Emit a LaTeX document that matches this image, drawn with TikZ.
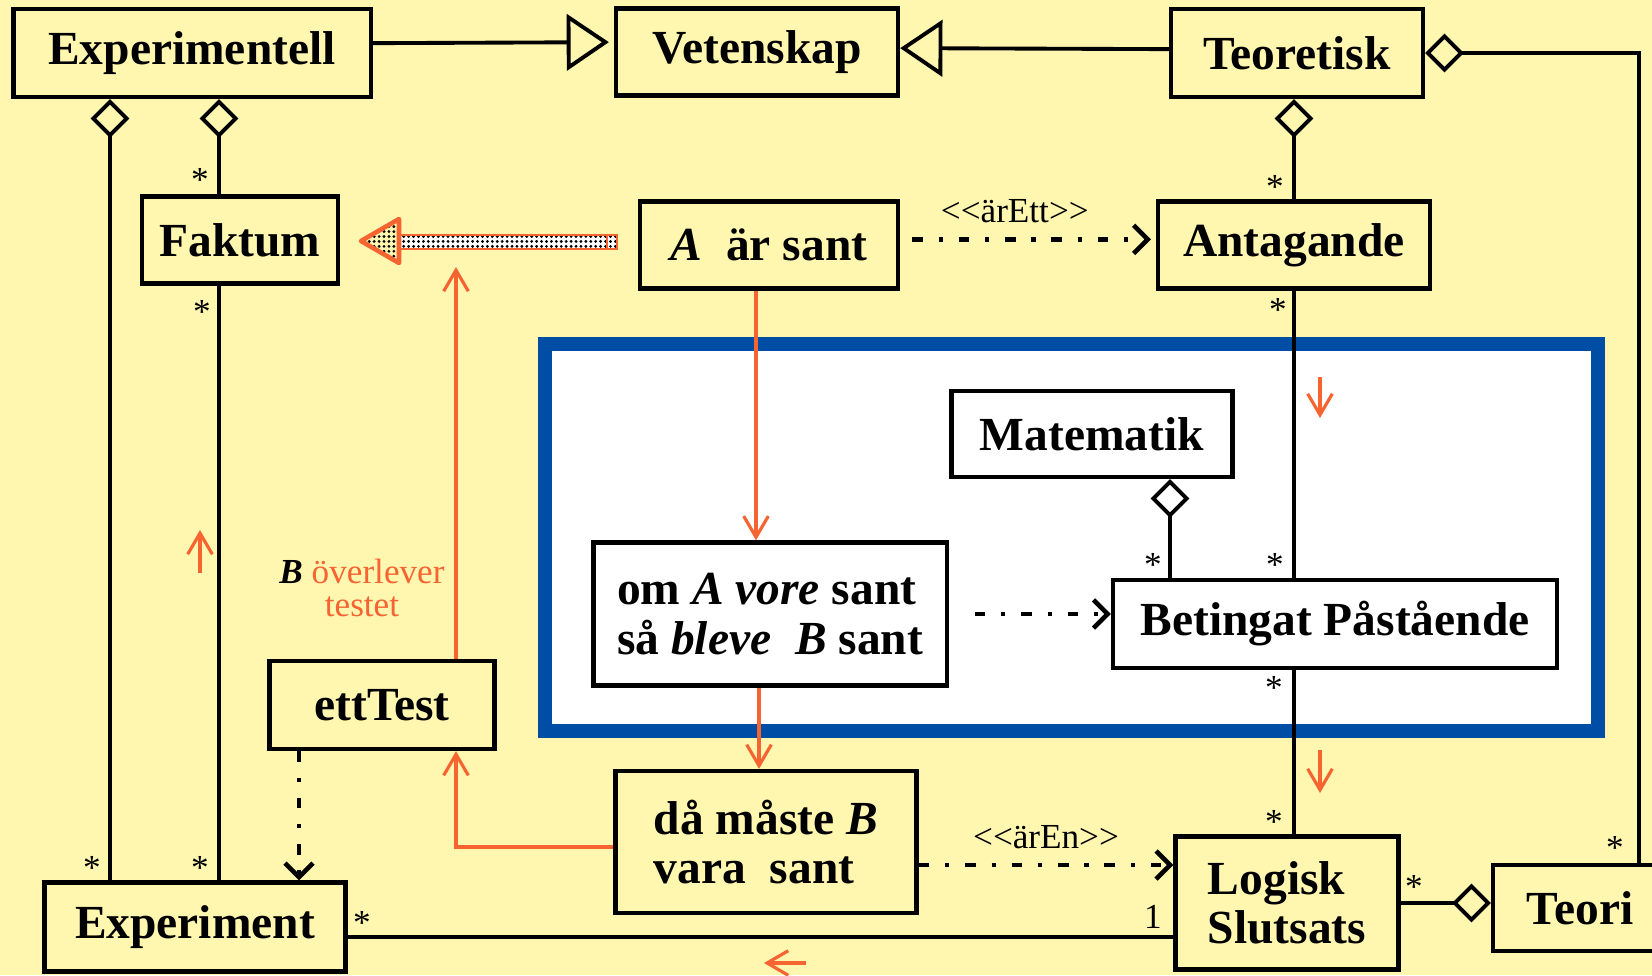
\documentclass[tikz,border=0pt]{standalone}
\usepackage{fontspec}
\setmainfont{Liberation Serif}
\usetikzlibrary{arrows.meta,calc,patterns}
\definecolor{bakgrund}{RGB}{255,246,176}
\definecolor{blarand}{RGB}{0,77,166}
\definecolor{pilorange}{RGB}{246,100,50}
\pgfdeclarepatternformonly{finaprickar}{\pgfpoint{-0.6pt}{-0.6pt}}{\pgfpoint{0.6pt}{0.6pt}}{\pgfpoint{1.4pt}{1.4pt}}{\pgfpathcircle{\pgfpointorigin}{0.45pt}\pgfusepath{fill}}
\tikzset{
	klass/.style={draw, line width=1.2pt, fill=bakgrund, inner sep=0pt, align=center,
			font=\bfseries\fontsize{13.5}{14}\selectfont},
	vitklass/.style={klass, fill=white},
	lank/.style={line width=1.1pt},
	aggr/.style={lank, {Diamond[open, length=11pt, width=11pt]}-},
	aggrslut/.style={lank, -{Diamond[open, length=11pt, width=11pt]}},
	arv/.style={lank, -{Triangle[open, length=12pt, width=16pt]}},
	beroende/.style={line width=1.3pt, dash pattern=on 3pt off 4.5pt on 1.2pt off 4.5pt,
			-{Straight Barb[length=4pt, width=8pt]}},
	flode/.style={draw=pilorange, line width=0.9pt, -{Straight Barb[length=6pt, width=7pt]}},
	antal/.style={inner sep=0pt, font=\fontsize{10}{10}\selectfont},
	etikett/.style={inner sep=0pt, font=\fontsize{10}{10}\selectfont}
}

\begin{document}
\begin{tikzpicture}[x=0.01cm, y=-0.01cm]
	\useasboundingbox (0,0) rectangle (1652,975);
	\fill[bakgrund] (0,0) rectangle (1652,975);
	\draw[blarand, line width=4pt, fill=white] (545,344) rectangle (1598,731);

	\node[klass, minimum width=3.57cm, minimum height=0.88cm] (expl) at (192,53) {Experimentell};
	\node[klass, minimum width=2.82cm, minimum height=0.87cm] (vet) at (757,52) {Vetenskap};
	\node[klass, minimum width=2.52cm, minimum height=0.88cm] (teor) at (1297,53) {Teoretisk};
	\node[klass, minimum width=1.96cm, minimum height=0.87cm] (faktum) at (240,240) {Faktum};
	\node[klass, minimum width=2.58cm, minimum height=0.87cm] (asant) at (769,245) {\textit{A}\ \ är sant};
	\node[klass, minimum width=2.72cm, minimum height=0.87cm] (antag) at (1294,245) {Antagande};
	\node[vitklass, minimum width=2.81cm, minimum height=0.86cm] (mat) at (1092,434) {Matematik};
	\node[vitklass, minimum width=3.53cm, minimum height=1.43cm, align=left] (om) at (770,614) {om \textit{A vore} sant\\så \textit{bleve}\ \ \textit{B} sant};
	\node[vitklass, minimum width=4.44cm, minimum height=0.88cm] (bet) at (1335,624) {Betingat Påstående};
	\node[klass, minimum width=2.25cm, minimum height=0.88cm] (etttest) at (382,705) {ettTest};
	\node[klass, minimum width=3.01cm, minimum height=1.42cm, align=left] (da) at (766,842) {då måste \textit{B}\\vara\ \ sant};
	\node[klass, minimum width=3.01cm, minimum height=0.89cm] (exp) at (195,927) {Experiment};
	\node[klass, minimum width=2.23cm, minimum height=1.33cm, align=left] (logisk) at (1287,903) {Logisk\\Slutsats};
	\node[klass, minimum width=1.74cm, minimum height=0.86cm] (teori) at (1580,908) {Teori};

	\draw[arv] ([yshift=2.8pt]expl.east) -- ([yshift=2.8pt, xshift=-1.4pt]vet.west);
	\draw[arv] ([yshift=1.1pt]teor.west) -- ([yshift=1.1pt]vet.east);
	\draw[aggr] (expl.south -| 110,0) -- (exp.north -| 110,0);
	\draw[aggr] (expl.south -| 219,0) -- (faktum.north -| 219,0);
	\draw[lank] (faktum.south -| 219,0) -- (exp.north -| 219,0);
	\draw[aggr] (teor.south -| antag.north) -- (antag.north);
	\draw[aggr] (teor.east) -| (teori.north -| 1639,0);
	\draw[lank] (antag.south) -- (antag.south |- bet.north);
	\draw[lank] (bet.south -| antag.south) -- (logisk.north -| antag.south);
	\draw[aggr] (mat.south -| 1170,0) -- (bet.north -| 1170,0);
	\draw[lank] (exp.east |- 0,937) -- (logisk.west |- 0,937);
	\draw[aggrslut] (logisk.east |- 0,903) -- (teori.west |- 0,903);

	\draw[beroende] ([xshift=3.4pt, yshift=1.6pt]asant.east) -- ([xshift=-1.4pt, yshift=1.6pt]antag.west) node[etikett, pos=0.43, above=4pt] {<\kern0pt<ärEtt>\kern0pt>};
	\draw[beroende] ([xshift=7.4pt]om.east) -- (bet.west |- om.east);
	\draw[beroende] (da.east |- 0,865) -- (logisk.west |- 0,865) node[etikett, midway, above=4pt] {<\kern0pt<ärEn>\kern0pt>};
	\draw[beroende] (etttest.south -| 299,0) -- (exp.north -| 299,0);

	\draw[flode] (asant.south -| 756,0) -- (om.north -| 756,0);
	\draw[flode] (om.south -| 759,0) -- (da.north -| 759,0);
	\draw[flode] (da.west |- 0,847) -| (etttest.south -| 456,0);
	\coordinate (testpil) at (456,267);
	\draw[flode] (etttest.north -| 456,0) -- (testpil);
	\draw[flode] (200,573) -- (200,530);
	\draw[flode] (1320,377) -- (1320,418);
	\draw[flode] (1320,750) -- (1320,793);
	\draw[flode] (806,963) -- (764,963);

	\fill[white] (399,235) rectangle (617,249);
	\fill[pattern=finaprickar, pattern color=black] (399,235) rectangle (617,249);
	\draw[pilorange, line width=0.8pt] (395,235) rectangle (617,249) (607,235) -- (607,249);
	\fill[bakgrund] (361,241) -- (399,219) -- (399,263) -- cycle;
	\fill[pattern=finaprickar, pattern color=black] (361,241) -- (399,219) -- (399,263) -- cycle;
	\draw[pilorange, line width=1.3pt, line join=round] (361,241) -- (399,219) -- (399,263) -- cycle;

	\node[etikett, align=center, text=pilorange, font=\fontsize{10}{9.2}\selectfont] (overlever) at (362,588) {\textcolor{black}{\textbf{\textit{B}}} överlever\\testet};

	\foreach \x/\y [count=\i] in {200/180, 202/312, 92/868, 200/868, 362/923, 1275/187, 1278/310, 1153/565, 1275/565, 1274/688, 1274/822, 1414/887, 1615/848}
		\node[antal] (antal\i) at (\x,\y) {*};
	\node[antal] (ett) at (1153,917) {1};
\end{tikzpicture}
\end{document}
